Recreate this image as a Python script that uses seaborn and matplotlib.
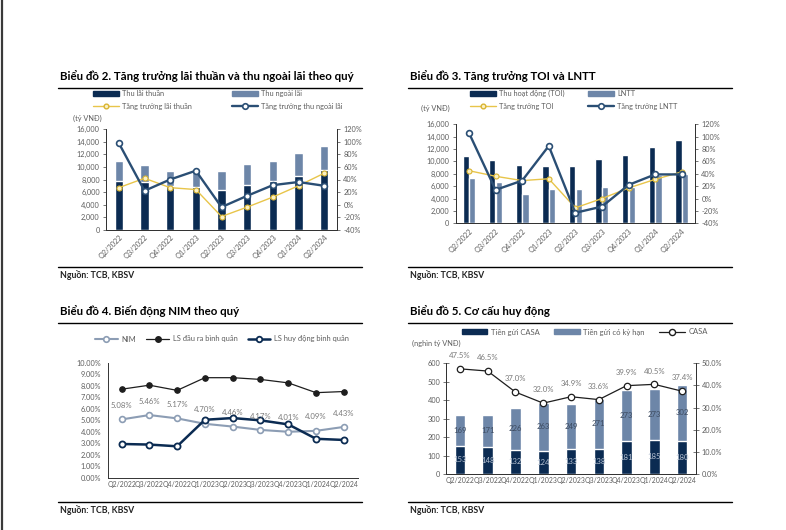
import matplotlib
matplotlib.use("Agg")
import matplotlib.pyplot as plt
from matplotlib.lines import Line2D
from matplotlib.patches import Patch
from matplotlib.ticker import FuncFormatter, FixedLocator
import numpy as np
import pandas as pd
import seaborn as sns

# ---- data ----
quarters = ["Q2/2022", "Q3/2022", "Q4/2022", "Q1/2023", "Q2/2023",
            "Q3/2023", "Q4/2023", "Q1/2024", "Q2/2024"]

# Biểu đồ 2
nii = [7700, 7600, 7000, 6800, 6300, 7200, 7700, 8500, 9500]
non_ii = [3300, 2700, 2400, 2600, 3000, 3200, 3300, 3800, 3900]
nii_growth = [27, 42, 27, 24, -19, -4, 12, 30, 50]
non_ii_growth = [98, 22, 40, 54, -4, 14, 31, 36, 30]

# Biểu đồ 3
toi = [10900, 10300, 9400, 9300, 9300, 10400, 11000, 12300, 13400]
pbt = [7300, 6700, 4700, 5600, 5600, 5800, 5800, 7800, 7900]
toi_growth = [45, 36, 29, 32, -15, 0, 17, 31, 43]
pbt_growth = [106, 14, 29, 85, -23, -13, 22, 39, 39]

# Biểu đồ 4
nim = [5.08, 5.46, 5.17, 4.70, 4.46, 4.17, 4.01, 4.09, 4.43]
lending_rate = [7.70, 8.05, 7.60, 8.70, 8.70, 8.55, 8.25, 7.40, 7.50]
funding_rate = [2.95, 2.90, 2.75, 5.05, 5.20, 5.00, 4.65, 3.40, 3.30]

# Biểu đồ 5
casa_dep = [153, 148, 132, 124, 133, 138, 181, 185, 180]
term_dep = [169, 171, 226, 263, 249, 271, 273, 273, 302]
casa_ratio = [47.5, 46.5, 37.0, 32.0, 34.9, 33.6, 39.9, 40.5, 37.4]

NAVY = "#0b2b52"
LIGHT = "#6d86a8"
LINE_NAVY = "#2a4e74"
YELLOW = "#e8c54a"
GREY = "#5e5e5e"

W, H = 786, 530
sns.set_theme(style="white")
plt.rcParams["font.family"] = ["Lato", "DejaVu Sans"]
plt.rcParams["axes.linewidth"] = 0.8

fig = plt.figure(figsize=(W / 100, H / 100), dpi=100)
fig.patch.set_facecolor("white")

TICK_FS = 5.3
x = np.arange(len(quarters))


def fx(px):
    return px / W


def fy(py):
    return 1 - py / H


def add_axes(left, top, right, bottom):
    return fig.add_axes([fx(left), fy(bottom), fx(right - left), (bottom - top) / H])


def hline(x0, x1, y, lw=1.0):
    fig.add_artist(Line2D([fx(x0), fx(x1)], [fy(y), fy(y)], color="black", lw=lw,
                          transform=fig.transFigure))


def frame_panel(x0, x1, title, y_title, y_src):
    fig.text(fx(x0 + 2), fy(y_title), title, fontsize=8.3, fontweight="bold",
             color="black", va="baseline")
    hline(x0, x1, y_title + 7.5)
    hline(x0, x1, y_src - 8.5)
    fig.text(fx(x0 + 2), fy(y_src), "Nguồn: TCB, KBSV", fontsize=6.3,
             fontweight="bold", color="#222222", va="center")


def legend_col(handles, labels, left, top, spacing=0.75):
    fig.legend(handles, labels, loc="upper left", bbox_to_anchor=(fx(left), fy(top)),
               frameon=False, fontsize=TICK_FS, labelcolor=GREY, handlelength=3.5,
               handleheight=0.55, handletextpad=0.5, labelspacing=spacing,
               borderaxespad=0, borderpad=0)


def style_axis(ax):
    ax.tick_params(axis="both", labelsize=TICK_FS, colors=GREY, length=2.5, width=0.6,
                   pad=2)
    for s in ax.spines.values():
        s.set_color("#333333")
        s.set_linewidth(0.7)


def cat_ticks(ax, rotate):
    ax.set_xlim(-0.5, len(quarters) - 0.5)
    ax.xaxis.set_major_locator(FixedLocator(x))
    ax.set_xticklabels(quarters, rotation=45 if rotate else 0,
                       ha="right" if rotate else "center",
                       rotation_mode="anchor", fontsize=TICK_FS if rotate else 4.95,
                       color=GREY)
    ax.tick_params(axis="x", which="major", length=0, pad=3 if rotate else 2.5)
    ax.xaxis.set_minor_locator(FixedLocator(np.arange(-0.5, len(quarters), 1.0)))
    ax.tick_params(axis="x", which="minor", length=2.5, width=0.6, color="#333333")
    ax.set_xlabel("")


thousands = FuncFormatter(lambda v, p: f"{v:,.0f}")
pct0 = FuncFormatter(lambda v, p: f"{v:.0f}%")

# vertical rule at the left edge of the page
fig.add_artist(Line2D([fx(1.5), fx(1.5)], [0, 1], color="#3a3a3a", lw=1.6,
                      transform=fig.transFigure))

# ================= Biểu đồ 2 =================
frame_panel(58, 362, "Biểu đồ 2. Tăng trưởng lãi thuần và thu ngoài lãi theo quý", 80, 275)
ax1 = add_axes(106, 129.3, 337, 229.7)
total_1 = [a + b for a, b in zip(nii, non_ii)]
sns.barplot(x=quarters, y=total_1, color=LIGHT, width=0.33, saturation=1, ax=ax1)
sns.barplot(x=quarters, y=nii, color=NAVY, width=0.33, saturation=1, ax=ax1)
ax1.set_ylim(0, 16000)
ax1.yaxis.set_major_locator(FixedLocator(np.arange(0, 16001, 2000)))
ax1.yaxis.set_major_formatter(thousands)
style_axis(ax1)
cat_ticks(ax1, True)
ax1.spines["top"].set_visible(False)
ax1r = ax1.twinx()
sns.lineplot(x=x, y=nii_growth, ax=ax1r, color=YELLOW, lw=1.0, marker="o",
             markersize=3.6, markerfacecolor="#fbf1c4", markeredgecolor="#d9b431",
             markeredgewidth=0.8)
sns.lineplot(x=x, y=non_ii_growth, ax=ax1r, color=LINE_NAVY, lw=1.7, marker="o",
             markersize=4.2, markerfacecolor="white", markeredgecolor=LINE_NAVY,
             markeredgewidth=1.2)
ax1r.set_ylim(-40, 120)
ax1r.yaxis.set_major_locator(FixedLocator(np.arange(-40, 121, 20)))
ax1r.yaxis.set_major_formatter(pct0)
style_axis(ax1r)
ax1r.spines["top"].set_visible(False)
ax1r.set_xlim(-0.5, len(quarters) - 0.5)
fig.text(fx(73), fy(118), "(tỷ VNĐ)", fontsize=TICK_FS, color=GREY, va="center")
legend_col([Patch(color=NAVY), Line2D([], [], color=YELLOW, lw=1.0, marker="o", ms=3.4,
                                      mfc="#fbf1c4", mec="#d9b431")],
           ["Thu lãi thuần", "Tăng trưởng lãi thuần"], 93, 90)
legend_col([Patch(color=LIGHT), Line2D([], [], color=LINE_NAVY, lw=1.7, marker="o", ms=4,
                                       mfc="white", mec=LINE_NAVY, mew=1.2)],
           ["Thu ngoài lãi", "Tăng trưởng thu ngoài lãi"], 232, 90)

# ================= Biểu đồ 3 =================
frame_panel(408, 732, "Biểu đồ 3. Tăng trưởng TOI và LNTT", 80, 275)
ax2 = add_axes(455.7, 124.3, 695, 223.3)
df2 = pd.DataFrame({
    "quarter": quarters * 2,
    "value": toi + pbt,
    "series": ["Thu hoạt động (TOI)"] * len(quarters) + ["LNTT"] * len(quarters),
})
sns.barplot(data=df2, x="quarter", y="value", hue="series", palette=[NAVY, LIGHT],
            width=0.5, gap=0.05, saturation=1, legend=False, ax=ax2)
ax2.set_ylim(0, 16000)
ax2.yaxis.set_major_locator(FixedLocator(np.arange(0, 16001, 2000)))
ax2.yaxis.set_major_formatter(thousands)
ax2.set_ylabel("")
style_axis(ax2)
cat_ticks(ax2, True)
ax2.spines["top"].set_visible(False)
ax2r = ax2.twinx()
sns.lineplot(x=x, y=toi_growth, ax=ax2r, color=YELLOW, lw=1.0, marker="o",
             markersize=3.6, markerfacecolor="#fbf1c4", markeredgecolor="#d9b431",
             markeredgewidth=0.8)
sns.lineplot(x=x, y=pbt_growth, ax=ax2r, color=LINE_NAVY, lw=1.7, marker="o",
             markersize=4.2, markerfacecolor="white", markeredgecolor=LINE_NAVY,
             markeredgewidth=1.2)
ax2r.set_ylim(-40, 120)
ax2r.yaxis.set_major_locator(FixedLocator(np.arange(-40, 121, 20)))
ax2r.yaxis.set_major_formatter(pct0)
style_axis(ax2r)
ax2r.spines["top"].set_visible(False)
ax2r.set_xlim(-0.5, len(quarters) - 0.5)
fig.text(fx(421), fy(108), "(tỷ VNĐ)", fontsize=TICK_FS, color=GREY, va="center")
legend_col([Patch(color=NAVY), Line2D([], [], color=YELLOW, lw=1.0, marker="o", ms=3.4,
                                      mfc="#fbf1c4", mec="#d9b431")],
           ["Thu hoạt động (TOI)", "Tăng trưởng TOI"], 470, 90)
legend_col([Patch(color=LIGHT), Line2D([], [], color=LINE_NAVY, lw=1.7, marker="o", ms=4,
                                       mfc="white", mec=LINE_NAVY, mew=1.2)],
           ["LNTT", "Tăng trưởng LNTT"], 588, 90)

# ================= Biểu đồ 4 =================
frame_panel(58, 362, "Biểu đồ 4. Biến động NIM theo quý", 315, 510)
ax3 = add_axes(107.7, 362.7, 357.7, 478)
sns.lineplot(x=x, y=lending_rate, ax=ax3, color="#1e1e1e", lw=0.9, marker="o",
             markersize=4, markerfacecolor="#1e1e1e", markeredgecolor="#1e1e1e")
sns.lineplot(x=x, y=nim, ax=ax3, color="#8c9db4", lw=1.5, marker="o", markersize=4.2,
             markerfacecolor="white", markeredgecolor="#8c9db4", markeredgewidth=1.2)
sns.lineplot(x=x, y=funding_rate, ax=ax3, color=NAVY, lw=1.8, marker="o",
             markersize=4.4, markerfacecolor="white", markeredgecolor=NAVY,
             markeredgewidth=1.3)
for xi, v in zip(x, nim):
    ax3.annotate(f"{v:.2f}%", (xi, v), xytext=(0, 7.5), textcoords="offset points",
                 ha="center", va="bottom", fontsize=5.6, color="#7a7a7a")
ax3.set_ylim(0, 10)
ax3.yaxis.set_major_locator(FixedLocator(np.arange(0, 10.01, 1)))
ax3.yaxis.set_major_formatter(FuncFormatter(lambda v, p: f"{v:.2f}%"))
style_axis(ax3)
cat_ticks(ax3, False)
ax3.spines["top"].set_visible(False)
ax3.spines["right"].set_visible(False)
fig.legend([Line2D([], [], color="#8c9db4", lw=1.5, marker="o", ms=4, mfc="white",
                   mec="#8c9db4", mew=1.2),
            Line2D([], [], color="#1e1e1e", lw=0.9, marker="o", ms=4),
            Line2D([], [], color=NAVY, lw=1.8, marker="o", ms=4, mfc="white", mec=NAVY,
                   mew=1.3)],
           ["NIM", "LS đầu ra bình quân", "LS huy động bình quân"], ncol=3,
           loc="center left", bbox_to_anchor=(fx(95), fy(339)), frameon=False,
           fontsize=5.4, labelcolor=GREY, handlelength=3.0, handletextpad=0.5,
           columnspacing=1.4, borderaxespad=0, borderpad=0)

# ================= Biểu đồ 5 =================
frame_panel(408, 732, "Biểu đồ 5. Cơ cấu huy động", 315, 510)
ax4 = add_axes(446, 363.3, 696, 474)
total_4 = [a + b for a, b in zip(casa_dep, term_dep)]
sns.barplot(x=quarters, y=total_4, color=LIGHT, width=0.38, saturation=1, ax=ax4)
sns.barplot(x=quarters, y=casa_dep, color=NAVY, width=0.38, saturation=1, ax=ax4)
for xi, c, t in zip(x, casa_dep, term_dep):
    ax4.text(xi, c / 2, f"{c}", ha="center", va="center", fontsize=5.6, color="#b7c2d2")
    ax4.text(xi, c + t / 2, f"{t}", ha="center", va="center", fontsize=5.6, color="#3d4b60")
ax4.set_ylim(0, 600)
ax4.yaxis.set_major_locator(FixedLocator(np.arange(0, 601, 100)))
style_axis(ax4)
ax4.tick_params(axis="y", direction="inout", length=4)
cat_ticks(ax4, False)
ax4.spines["top"].set_visible(False)
ax4r = ax4.twinx()
sns.lineplot(x=x, y=casa_ratio, ax=ax4r, color="#1e1e1e", lw=0.9, marker="o",
             markersize=4.6, markerfacecolor="white", markeredgecolor="#1e1e1e",
             markeredgewidth=0.9)
for xi, v in zip(x, casa_ratio):
    ax4r.annotate(f"{v:.1f}%", (xi, v), xytext=(0, 7), textcoords="offset points",
                  ha="center", va="bottom", fontsize=5.6, color="#7a7a7a")
ax4r.set_ylim(0, 50)
ax4r.yaxis.set_major_locator(FixedLocator(np.arange(0, 50.01, 10)))
ax4r.yaxis.set_major_formatter(FuncFormatter(lambda v, p: f"{v:.1f}%"))
style_axis(ax4r)
ax4r.tick_params(axis="y", direction="inout", length=4)
ax4r.spines["top"].set_visible(False)
ax4r.set_xlim(-0.5, len(quarters) - 0.5)
fig.text(fx(412), fy(343.7), "(nghìn tỷ VNĐ)", fontsize=TICK_FS, color=GREY, va="center")
fig.legend([Patch(color=NAVY), Patch(color=LIGHT),
            Line2D([], [], color="#1e1e1e", lw=0.9, marker="o", ms=4.4, mfc="white",
                   mec="#1e1e1e")],
           ["Tiền gửi CASA", "Tiền gửi có kỳ hạn", "CASA"], ncol=3,
           loc="center left", bbox_to_anchor=(fx(462), fy(332)), frameon=False,
           fontsize=5.5, labelcolor=GREY, handlelength=3.3, handleheight=0.55,
           handletextpad=0.5, columnspacing=1.9, borderaxespad=0, borderpad=0)

fig.savefig("out.png", dpi=100, facecolor="white")
